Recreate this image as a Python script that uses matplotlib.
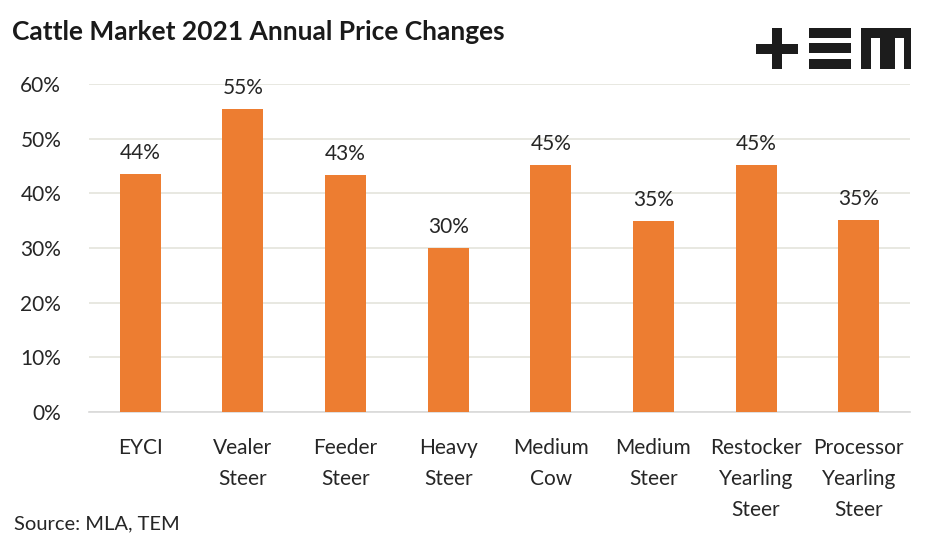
import numpy as np
import matplotlib
matplotlib.use('Agg')
import matplotlib.pyplot as plt
from matplotlib.patches import Rectangle

plt.rcParams['font.family'] = ['Lato', 'DejaVu Sans']

categories = ['EYCI', 'Vealer\nSteer', 'Feeder\nSteer', 'Heavy\nSteer', 'Medium\nCow',
              'Medium\nSteer', 'Restocker\nYearling\nSteer', 'Processor\nYearling\nSteer']
changes = [43.6, 55.4, 43.3, 30.0, 45.2, 34.9, 45.2, 35.1]
yticks = [0, 10, 20, 30, 40, 50, 60]

bar_color = '#ED7D31'
text_color = '#262626'

fig = plt.figure(figsize=(9.45, 5.43), dpi=100)
W, H = 945, 543
ax = fig.add_axes([89 / W, 1 - 412 / H, (910 - 89) / W, (412 - 84) / H])

x = np.arange(len(categories))
bars = ax.bar(x, changes, width=0.4, color=bar_color, zorder=3)
for b, v in zip(bars, changes):
    ax.text(b.get_x() + b.get_width() / 2, v + 2.0, '%d%%' % round(v),
            ha='center', va='bottom', fontsize=15, color=text_color)

ax.set_xlim(-0.5, len(categories) - 0.5)
ax.set_ylim(0, 60)
ax.set_yticks(yticks)
ax.set_yticklabels(['%d%%' % t for t in yticks], fontsize=15, color=text_color)
ax.set_xticks(x)
ax.set_xticklabels(categories, fontsize=15, color=text_color, linespacing=1.68, va='top')
ax.tick_params(axis='both', length=0)
ax.tick_params(axis='x', pad=19)
ax.tick_params(axis='y', pad=20)
ax.grid(axis='y', color='#e4e4dc', linewidth=1.2, zorder=0)
for s in ['top', 'right', 'left']:
    ax.spines[s].set_visible(False)
ax.spines['bottom'].set_color('#d9d9d9')
ax.spines['bottom'].set_linewidth(1.2)

fig.text(12 / W, 1 - 32 / H, 'Cattle Market 2021 Annual Price Changes', fontsize=19,
         fontweight='bold', color='#1a1a1a', ha='left', va='center')
fig.text(14 / W, 1 - 524 / H, 'Source: MLA, TEM', fontsize=14.5, color=text_color,
         ha='left', va='center')

# logo "+EM" drawn from blocks (pixel coords from top-left)
logo = '#1c1c1c'
def block(x0, y0, x1, y1):
    fig.patches.append(Rectangle((x0 / W, 1 - y1 / H), (x1 - x0) / W, (y1 - y0) / H,
                                 transform=fig.transFigure, color=logo, lw=0))
block(756, 44, 798, 54)
block(772, 28, 782, 69)
block(809, 28, 851, 38)
block(809, 43, 851, 53)
block(809, 59, 851, 69)
block(861, 28, 911, 38)
block(861, 28, 871, 69)
block(880, 28, 895, 69)
block(904, 28, 911, 69)

fig.savefig('out.png', dpi=100)
